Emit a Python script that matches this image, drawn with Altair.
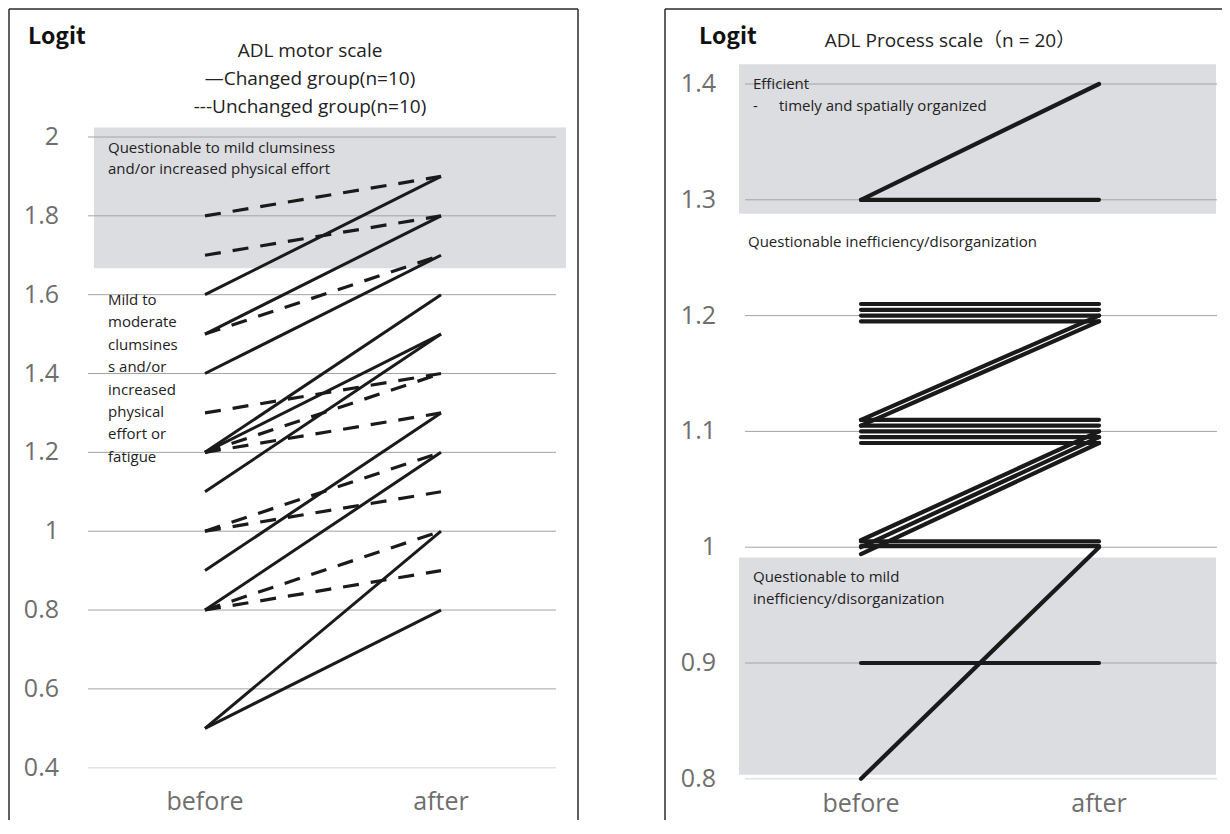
import altair as alt
import pandas as pd

# ---------------- data ----------------
CATS = ["before", "after"]

# ADL motor scale (left panel)
MOTOR_CHANGED_BEFORE = [1.6, 1.5, 1.4, 1.2, 1.2, 1.1, 0.9, 0.8, 0.5, 0.5]
MOTOR_CHANGED_AFTER = [1.9, 1.8, 1.7, 1.6, 1.5, 1.5, 1.3, 1.2, 1.0, 0.8]
MOTOR_UNCHANGED_BEFORE = [1.8, 1.7, 1.5, 1.3, 1.2, 1.2, 1.0, 1.0, 0.8, 0.8]
MOTOR_UNCHANGED_AFTER = [1.9, 1.8, 1.7, 1.4, 1.4, 1.3, 1.2, 1.1, 1.0, 0.9]

# ADL process scale (right panel, n = 20)
PROCESS_BEFORE = [1.30, 1.30, 1.21, 1.205, 1.20, 1.195, 1.11, 1.105,
                  1.11, 1.105, 1.10, 1.095, 1.09,
                  1.006, 1.00, 0.994, 1.005, 1.001, 0.90, 0.80]
PROCESS_AFTER = [1.40, 1.30, 1.21, 1.205, 1.20, 1.195, 1.20, 1.195,
                 1.11, 1.105, 1.10, 1.095, 1.09,
                 1.10, 1.095, 1.09, 1.005, 1.001, 0.90, 1.00]

MOTOR_TICKS = [0.4, 0.6, 0.8, 1.0, 1.2, 1.4, 1.6, 1.8, 2.0]
MOTOR_TICK_LABELS = ["0.4", "0.6", "0.8", "1", "1.2", "1.4", "1.6", "1.8", "2"]
PROCESS_TICKS = [0.8, 0.9, 1.0, 1.1, 1.2, 1.3, 1.4]
PROCESS_TICK_LABELS = ["0.8", "0.9", "1", "1.1", "1.2", "1.3", "1.4"]

MOTOR_ZONE_LO = [1.667]
MOTOR_ZONE_HI = [2.024]
PROCESS_ZONE_LO = [1.288, 0.8035]
PROCESS_ZONE_HI = [1.417, 0.991]

MOTOR_TITLE = ["ADL motor scale", "\u2014Changed group(n=10)", "---Unchanged group(n=10)"]
MOTOR_ZONE_TEXT = ["Questionable to mild clumsiness", "and/or increased physical effort"]
MOTOR_MILD_TEXT = ["Mild to", "moderate", "clumsines", "s and/or", "increased",
                   "physical", "effort or", "fatigue"]
PROCESS_TITLE = ["ADL Process scale\uff08n = 20\uff09"]
PROCESS_EFF = ["Efficient"]
PROCESS_EFF_DASH = ["-"]
PROCESS_EFF_SUB = ["timely and spatially organized"]
PROCESS_MID_TEXT = ["Questionable inefficiency/disorganization"]
PROCESS_LOW_TEXT = ["Questionable to mild", "inefficiency/disorganization"]
Y_TITLE = ["Logit"]

FONT = "Open Sans"
TOTAL_W = 1214
H = 812


def long_df(before, after, prefix):
    rows = []
    for i, (b, a) in enumerate(zip(before, after)):
        rows.append({"id": f"{prefix}{i}", "time": CATS[0], "logit": b})
        rows.append({"id": f"{prefix}{i}", "time": CATS[1], "logit": a})
    return pd.DataFrame(rows)


one = pd.DataFrame({"k": [0]})


def panel(off, xs, ys, ticks, tick_labels, zone_lo, zone_hi,
          grid_x, zone_x, tick_x, border_x, right_border, label_y, line_layers, texts):
    tick_df = pd.DataFrame({"tick": ticks, "label": tick_labels})
    tmin = min(ticks)
    zones = alt.Chart(pd.DataFrame({"lo": zone_lo, "hi": zone_hi})).mark_rect(
        color="#dcdde0").encode(
        y=alt.Y("hi:Q", scale=ys, axis=None), y2="lo:Q",
        x=alt.value(off + zone_x[0]), x2=alt.value(off + zone_x[1]))
    grid = alt.Chart(tick_df).transform_filter(alt.datum.tick > tmin).mark_rule(
        color="#a3a3a3", strokeWidth=1).encode(
        y=alt.Y("tick:Q", scale=ys, axis=None),
        x=alt.value(off + grid_x[0]), x2=alt.value(off + grid_x[1]))
    base = alt.Chart(tick_df).transform_filter(alt.datum.tick <= tmin).mark_rule(
        color="#e3e3e3", strokeWidth=1.5).encode(
        y=alt.Y("tick:Q", scale=ys, axis=None),
        x=alt.value(off + grid_x[0]), x2=alt.value(off + grid_x[1]))
    tlabels = alt.Chart(tick_df).mark_text(
        align="right", baseline="middle", font=FONT, fontSize=25,
        color="#6e6e6e").encode(
        y=alt.Y("tick:Q", scale=ys, axis=None),
        x=alt.value(off + tick_x), text="label:N")
    xlabels = alt.Chart(pd.DataFrame({"time": CATS})).mark_text(
        align="center", baseline="alphabetic", font=FONT, fontSize=25,
        color="#6e6e6e").encode(
        x=alt.X("time:N", scale=xs, axis=None, sort=CATS),
        y=alt.value(label_y), text="time:N")
    borders = [
        alt.Chart(one).mark_rule(color="#2b2b2b", strokeWidth=1.5).encode(
            x=alt.value(off + border_x[0]), y=alt.value(1), y2=alt.value(H)),
        alt.Chart(one).mark_rule(color="#2b2b2b", strokeWidth=1.5).encode(
            x=alt.value(off + border_x[0]), x2=alt.value(off + border_x[1]), y=alt.value(1)),
    ]
    if right_border:
        borders.append(alt.Chart(one).mark_rule(color="#2b2b2b", strokeWidth=1.5).encode(
            x=alt.value(off + border_x[1]), y=alt.value(1), y2=alt.value(H)))
    text_layers = []
    for (lines, x, y, size, weight, align, lh, font, color) in texts:
        text_layers.append(alt.Chart(one).mark_text(
            text=lines, align=align, baseline="alphabetic", fontSize=size,
            fontWeight=weight, font=font, lineHeight=lh, color=color).encode(
            x=alt.value(off + x), y=alt.value(y)))
    return [zones, grid, base] + text_layers + line_layers + [tlabels, xlabels] + borders


# ---------------- left panel ----------------
LOFF = 0
xs_l = alt.Scale(type="point", domain=CATS, range=[LOFF + 197, LOFF + 433], padding=0)
ys_l = alt.Scale(domain=[2.0 - (H - 129) / 394.2, 2.0 + 129 / 394.2], nice=False, zero=False)

changed = alt.Chart(long_df(MOTOR_CHANGED_BEFORE, MOTOR_CHANGED_AFTER, "c")).mark_line(
    color="#1a1a1a", strokeWidth=3).encode(
    x=alt.X("time:N", scale=xs_l, axis=None, sort=CATS),
    y=alt.Y("logit:Q", scale=ys_l, axis=None), detail="id:N")
unchanged = alt.Chart(long_df(MOTOR_UNCHANGED_BEFORE, MOTOR_UNCHANGED_AFTER, "u")).mark_line(
    color="#1a1a1a", strokeWidth=3.2, strokeDash=[16, 12]).encode(
    x=alt.X("time:N", scale=xs_l, axis=None, sort=CATS),
    y=alt.Y("logit:Q", scale=ys_l, axis=None), detail="id:N")

left_layers = panel(
    LOFF, xs_l, ys_l, MOTOR_TICKS, MOTOR_TICK_LABELS, MOTOR_ZONE_LO, MOTOR_ZONE_HI,
    grid_x=(80, 548), zone_x=(86, 558), tick_x=51, border_x=(1, 570), right_border=True,
    label_y=802, line_layers=[unchanged, changed],
    texts=[
        (Y_TITLE, 20, 36, 23, "bold", "left", 28, "Noto Sans CJK JP", "#111111"),
        (MOTOR_TITLE, 302, 48.7, 19, "normal", "center", 28.2, FONT, "#222222"),
        (MOTOR_ZONE_TEXT, 100, 144.7, 15, "normal", "left", 21.5, FONT, "#222222"),
        (MOTOR_MILD_TEXT, 100, 297, 15, "normal", "left", 22.4, FONT, "#222222"),
    ])

# ---------------- right panel ----------------
ROFF = 654
xs_r = alt.Scale(type="point", domain=CATS, range=[ROFF + 199, ROFF + 437], padding=0)
ys_r = alt.Scale(domain=[1.4 - (H - 76) / 1158, 1.4 + 76 / 1158], nice=False, zero=False)

process = alt.Chart(long_df(PROCESS_BEFORE, PROCESS_AFTER, "p")).mark_line(
    color="#1a1a1a", strokeWidth=4.2, strokeCap="round").encode(
    x=alt.X("time:N", scale=xs_r, axis=None, sort=CATS),
    y=alt.Y("logit:Q", scale=ys_r, axis=None), detail="id:N")

right_layers = panel(
    ROFF, xs_r, ys_r, PROCESS_TICKS, PROCESS_TICK_LABELS, PROCESS_ZONE_LO, PROCESS_ZONE_HI,
    grid_x=(83, 555), zone_x=(77, 554), tick_x=54, border_x=(3, 580), right_border=False,
    label_y=804, line_layers=[process],
    texts=[
        (Y_TITLE, 37, 36, 23, "bold", "left", 28, "Noto Sans CJK JP", "#111111"),
        (PROCESS_TITLE, 288, 38.7, 19, "normal", "center", 28, FONT + ", Noto Sans CJK JP", "#222222"),
        (PROCESS_EFF, 91, 81.3, 15, "normal", "left", 21, FONT, "#222222"),
        (PROCESS_EFF_DASH, 91, 102.7, 15, "normal", "left", 21, FONT, "#222222"),
        (PROCESS_EFF_SUB, 117, 102.7, 15, "normal", "left", 21, FONT, "#222222"),
        (PROCESS_MID_TEXT, 86, 238.7, 15, "normal", "left", 21, FONT, "#222222"),
        (PROCESS_LOW_TEXT, 91, 573.7, 15, "normal", "left", 22.6, FONT, "#222222"),
    ])

chart = (
    alt.layer(*(left_layers + right_layers))
    .resolve_scale(x="independent", y="independent")
    .properties(width=TOTAL_W, height=H, padding=0,
                autosize=alt.AutoSizeParams(type="none"))
    .configure_view(stroke=None)
)

chart.save("out.html", embed_options={"renderer": "svg", "actions": False})
